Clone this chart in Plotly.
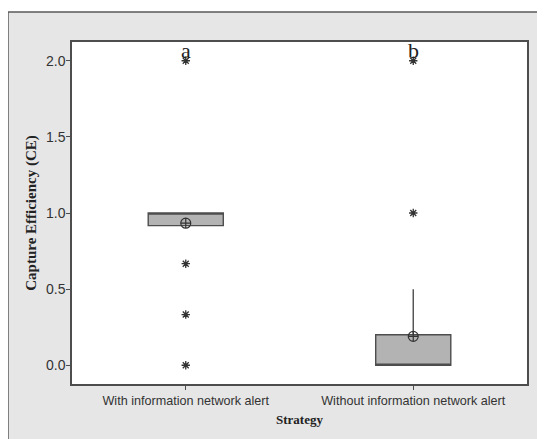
import plotly.graph_objects as go

categories = ["With information network alert", "Without information network alert"]
q1 = [0.917, 0.0]
median = [1.0, 0.0]
q3 = [1.0, 0.2]
lower_whisker = [0.917, 0.0]
upper_whisker = [1.0, 0.5]
means = [0.933, 0.19]
outlier_x = [categories[0]] * 4 + [categories[1]] * 2
outlier_y = [2.0, 0.667, 0.333, 0.0, 2.0, 1.0]
letters = ["a", "b"]
yticks = [0.0, 0.5, 1.0, 1.5, 2.0]

dark = "#4d4d4d"

fig = go.Figure()
fig.add_trace(go.Box(
    x=categories, q1=q1, median=median, q3=q3,
    lowerfence=lower_whisker, upperfence=upper_whisker,
    fillcolor="#b3b3b3", line=dict(color=dark, width=1.4),
    width=0.33, whiskerwidth=0, boxpoints=False, hoverinfo="skip",
    showlegend=False,
))
fig.add_trace(go.Scatter(
    x=outlier_x, y=outlier_y, mode="markers",
    marker=dict(symbol="asterisk-open", size=7, color="#333",
                line=dict(color="#333", width=1.3)),
    showlegend=False,
))
fig.add_trace(go.Scatter(
    x=categories, y=means, mode="markers",
    marker=dict(symbol="circle-cross-open", size=10, color="#333",
                line=dict(color="#333", width=1.2)),
    showlegend=False,
))

for c, t in zip(categories, letters):
    fig.add_annotation(x=c, y=2.0, text=t, showarrow=False, yanchor="bottom",
                       yshift=-4,
                       font=dict(family="Liberation Serif, serif", size=22, color="#222"))

fig.update_layout(
    template="none",
    width=537, height=431,
    margin=dict(l=64, r=18, t=34, b=55),
    paper_bgcolor="white", plot_bgcolor="white",
    shapes=[
        dict(type="rect", xref="paper", yref="paper", x0=-0.1407, x1=1.08,
             y0=-0.2, y1=1.0877, fillcolor="#e6e6e6",
             line=dict(color="#5a5a5a", width=1.5), layer="below"),
        dict(type="rect", xref="paper", yref="paper", x0=0, x1=1, y0=0, y1=1,
             fillcolor="white", line=dict(width=0), layer="below"),
    ],
    font=dict(family="Liberation Sans, Arial, sans-serif", color="#333"),
)
fig.update_xaxes(
    type="category", range=[-0.5, 1.5], showgrid=False, zeroline=False,
    automargin=False,
    showline=True, mirror=True, linecolor=dark, linewidth=1.5,
    ticks="outside", ticklen=4, tickcolor=dark,
    tickfont=dict(size=12.6, color="#333"),
    title=dict(text="<b>Strategy</b>", standoff=8,
               font=dict(family="Liberation Serif, serif", size=13, color="#222")),
)
fig.update_yaxes(
    range=[-0.123, 2.123], tickvals=yticks, tickformat=".1f",
    automargin=False,
    showgrid=False, zeroline=False,
    showline=True, mirror=True, linecolor=dark, linewidth=1.5,
    ticks="outside", ticklen=4, tickcolor=dark, ticklabelstandoff=-2,
    tickfont=dict(size=14, color="#333"),
    title=dict(text="<b>Capture Efficiency (CE)</b>", standoff=6,
               font=dict(family="Liberation Serif, serif", size=15, color="#222")),
)

fig.write_html("out.html")
